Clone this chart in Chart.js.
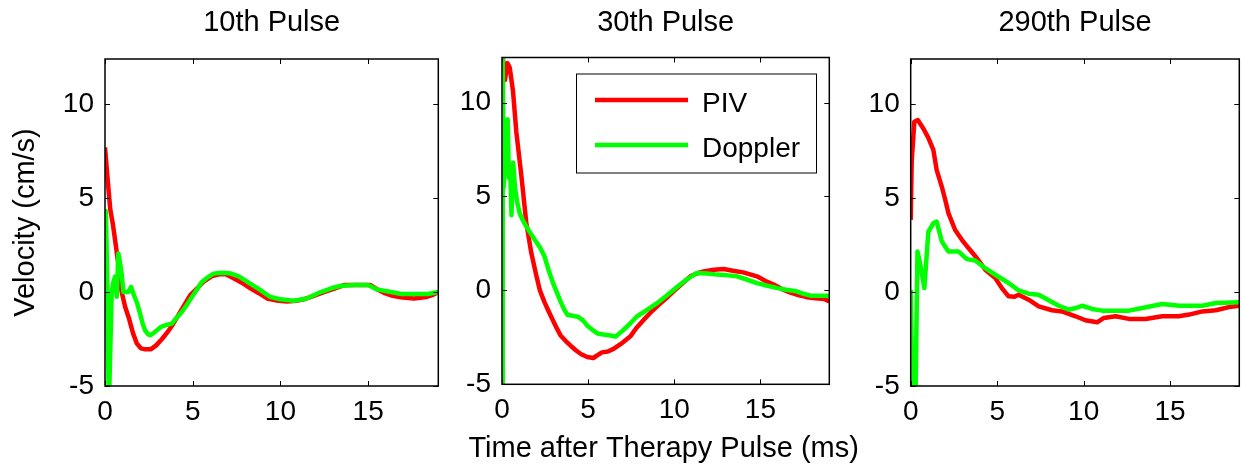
<!DOCTYPE html>
<html>
<head>
<meta charset="utf-8">
<script src="https://cdn.jsdelivr.net/npm/chart.js@4"></script>
<style>
body { margin: 0; background: #fff; }
#wrap { position: relative; width: 1241px; height: 466px; overflow: hidden; background: #fff; }
#wrap canvas { position: absolute; top: 0; }
</style>
</head>
<body>
<div id="wrap">
  <canvas id="c1"></canvas>
  <canvas id="c2"></canvas>
  <canvas id="c3"></canvas>
</div>
<script>
const titles = ['10th Pulse', '30th Pulse', '290th Pulse'];
const seriesNames = ['PIV', 'Doppler'];
const xTicks = [0, 5, 10, 15];
const yTicks = [-5, 0, 5, 10];
const xLabel = 'Time after Therapy Pulse (ms)';
const yLabel = 'Velocity (cm/s)';

// 10th pulse
const p10PivTime = [0, 0.15, 0.3, 0.45, 0.6, 0.8, 0.95, 1.15, 1.35, 1.6, 1.81, 2.05, 2.3, 2.6, 2.9, 3.25, 3.55, 3.85, 4.2, 4.57, 4.86, 5.15, 5.62, 6.1, 6.57, 6.9, 7.33, 7.8, 8.29, 8.75, 9.24, 9.8, 10.38, 10.9, 11.33, 11.9, 12.48, 13.0, 13.62, 14.4, 15.14, 15.5, 15.9, 16.4, 16.86, 17.6, 18.0, 18.38, 18.7, 19.0];
const p10PivVel = [7.7, 6.0, 4.4, 3.6, 2.6, 1.2, 0.0, -0.8, -1.35, -2.2, -2.73, -3.0, -3.05, -3.05, -2.85, -2.5, -2.15, -1.75, -1.2, -0.62, -0.16, 0.1, 0.55, 0.85, 0.96, 0.95, 0.73, 0.5, 0.2, -0.05, -0.34, -0.45, -0.51, -0.47, -0.39, -0.2, 0.0, 0.15, 0.37, 0.38, 0.37, 0.15, -0.04, -0.2, -0.28, -0.34, -0.3, -0.25, -0.15, 0.0];
const p10DopTime = [0, 0.05, 0.12, 0.2, 0.25, 0.38, 0.47, 0.57, 0.67, 0.76, 0.85, 0.95, 1.05, 1.33, 1.49, 1.6, 1.81, 2.0, 2.15, 2.29, 2.45, 2.57, 2.75, 2.95, 3.2, 3.43, 3.81, 4.1, 4.38, 4.65, 4.95, 5.25, 5.52, 5.85, 6.19, 6.6, 7.1, 7.6, 8.1, 8.86, 9.4, 10.0, 10.76, 11.5, 12.3, 12.9, 13.4, 14.2, 15.0, 15.5, 16.3, 16.9, 18.4, 19.0];
const p10DopVel = [0.0, 4.3, 1.0, -5.0, -5.0, -0.07, 0.5, 0.82, -0.25, 2.05, 1.6, 0.98, 0.0, 0.0, 0.27, -0.05, -0.53, -1.15, -1.7, -2.04, -2.25, -2.3, -2.2, -2.04, -1.85, -1.77, -1.68, -1.35, -1.06, -0.7, -0.27, 0.15, 0.53, 0.78, 0.98, 1.03, 1.0, 0.85, 0.55, 0.1, -0.25, -0.39, -0.46, -0.34, 0.0, 0.2, 0.32, 0.37, 0.37, 0.14, 0.0, -0.1, -0.1, 0.0];

// 30th pulse
const p30PivTime = [0.05, 0.17, 0.32, 0.45, 0.64, 0.83, 1.12, 1.41, 1.7, 1.99, 2.2, 2.47, 2.7, 2.96, 3.2, 3.4, 3.7, 4.0, 4.3, 4.6, 4.95, 5.3, 5.55, 5.8, 6.15, 6.5, 6.9, 7.44, 7.8, 8.22, 8.6, 9.0, 9.5, 9.96, 10.45, 10.93, 11.3, 11.7, 12.3, 12.87, 13.4, 14.0, 14.8, 15.3, 15.8, 16.3, 16.7, 17.2, 17.7, 18.2, 18.7, 19.0];
const p30PivVel = [12.4, 11.2, 12.1, 11.85, 10.6, 8.45, 6.14, 3.6, 2.0, 0.8, 0.0, -0.64, -1.1, -1.6, -2.05, -2.4, -2.7, -2.96, -3.2, -3.4, -3.55, -3.6, -3.45, -3.3, -3.25, -3.1, -2.85, -2.46, -2.0, -1.57, -1.2, -0.85, -0.45, -0.05, 0.35, 0.75, 0.9, 1.01, 1.1, 1.14, 1.05, 0.96, 0.75, 0.5, 0.3, 0.05, -0.11, -0.25, -0.36, -0.42, -0.46, -0.59];
const p30DopTime = [0, 0.04, 0.1, 0.18, 0.25, 0.33, 0.4, 0.47, 0.55, 0.65, 0.75, 0.9, 1.03, 1.2, 1.41, 1.65, 1.9, 2.2, 2.47, 2.7, 2.96, 3.2, 3.4, 3.6, 3.8, 4.1, 4.4, 4.7, 4.97, 5.25, 5.56, 5.9, 6.3, 6.6, 7.05, 7.45, 7.83, 8.4, 9.0, 9.6, 10.16, 10.75, 11.32, 11.9, 12.48, 13.1, 13.64, 14.2, 14.8, 15.4, 16.0, 16.5, 17.1, 17.5, 17.9, 19.0];
const p30DopVel = [-5.0, 12.4, 5.5, 7.0, 9.0, 9.1, 6.0, 6.6, 4.0, 6.8, 5.5, 4.6, 4.1, 3.75, 3.4, 3.05, 2.7, 2.3, 1.8, 1.1, 0.4, -0.15, -0.6, -1.0, -1.3, -1.35, -1.4, -1.6, -1.9, -2.1, -2.3, -2.35, -2.4, -2.46, -2.1, -1.75, -1.39, -1.05, -0.68, -0.25, 0.18, 0.6, 0.93, 0.9, 0.84, 0.8, 0.75, 0.58, 0.39, 0.25, 0.12, 0.03, -0.05, -0.18, -0.28, -0.28];

// 290th pulse
const p290PivTime = [0, 0.06, 0.21, 0.41, 0.73, 1.02, 1.31, 1.5, 1.8, 2.0, 2.18, 2.57, 2.96, 3.34, 3.83, 4.31, 4.89, 5.27, 5.66, 6.0, 6.24, 6.82, 7.4, 8.17, 8.75, 9.53, 10.1, 10.78, 11.17, 11.85, 12.62, 13.58, 14.55, 15.5, 16.1, 16.87, 17.64, 18.4, 19.0];
const p290PivVel = [3.84, 7.0, 9.06, 9.15, 8.7, 8.2, 7.56, 6.5, 5.6, 4.9, 4.2, 3.3, 2.78, 2.34, 1.8, 1.19, 0.74, 0.21, -0.23, -0.25, -0.14, -0.41, -0.76, -0.97, -1.03, -1.29, -1.5, -1.61, -1.38, -1.29, -1.43, -1.43, -1.29, -1.29, -1.2, -1.03, -0.97, -0.8, -0.73];
const p290DopTime = [0, 0.1, 0.29, 0.39, 0.54, 0.79, 1.02, 1.31, 1.5, 1.8, 2.18, 2.76, 3.25, 3.73, 4.31, 4.89, 5.66, 6.24, 6.82, 7.4, 7.98, 8.56, 9.14, 9.53, 9.91, 10.49, 11.07, 12.62, 13.39, 14.55, 15.52, 16.87, 17.64, 19.0];
const p290DopVel = [0.12, -5.0, -5.0, 2.16, 1.54, 0.21, 3.2, 3.66, 3.75, 2.69, 2.16, 2.16, 1.75, 1.68, 1.27, 0.92, 0.48, 0.09, -0.09, -0.14, -0.44, -0.73, -0.94, -0.85, -0.73, -0.9, -0.99, -0.99, -0.85, -0.64, -0.73, -0.73, -0.58, -0.55];

const pivTimes = [p10PivTime, p30PivTime, p290PivTime];
const pivVels = [p10PivVel, p30PivVel, p290PivVel];
const dopTimes = [p10DopTime, p30DopTime, p290DopTime];
const dopVels = [p10DopVel, p30DopVel, p290DopVel];

// where each axes box sits on the page
const boxes = [
    { left: 105, right: 438.3, top: 59, bottom: 386 },
    { left: 502, right: 829.3, top: 57.5, bottom: 384.3 },
    { left: 910.7, right: 1239.3, top: 59, bottom: 386 }
];

const FONT = "'Liberation Sans', Arial, sans-serif";
const Y_AXIS_W = 105;

function toXY(times, vels) {
    return times.map(function (t, i) { return { x: t, y: vels[i] }; });
}

// matlab style box with ticks pointing inwards on all four sides
const boxPlugin = {
    id: 'matlabBox',
    afterDraw(chart) {
        const ctx = chart.ctx;
        const a = chart.chartArea;
        const xs = chart.scales.x, ys = chart.scales.y;
        const len = 5;
        ctx.save();
        ctx.strokeStyle = '#000';
        ctx.lineWidth = 1;
        ctx.beginPath();
        xTicks.forEach(function (v) {
            const px = Math.round(xs.getPixelForValue(v)) + 0.5;
            ctx.moveTo(px, a.bottom); ctx.lineTo(px, a.bottom - len);
            ctx.moveTo(px, a.top); ctx.lineTo(px, a.top + len);
        });
        yTicks.forEach(function (v) {
            const py = Math.round(ys.getPixelForValue(v)) + 0.5;
            ctx.moveTo(a.left, py); ctx.lineTo(a.left + len, py);
            ctx.moveTo(a.right, py); ctx.lineTo(a.right - len, py);
        });
        ctx.stroke();
        ctx.lineWidth = 1.5;
        ctx.strokeRect(a.left, a.top, a.right - a.left, a.bottom - a.top);
        ctx.restore();
    }
};

// legend inside the middle axes, plus the shared x label under it
const middlePlugin = {
    id: 'middleExtras',
    afterDraw(chart) {
        const ctx = chart.ctx;
        const a = chart.chartArea;
        ctx.save();
        ctx.fillStyle = '#fff';
        ctx.fillRect(a.left + 74, a.top + 16.5, 240, 99);
        ctx.strokeStyle = '#000';
        ctx.lineWidth = 1;
        ctx.strokeRect(a.left + 74.5, a.top + 16.5, 240, 99);
        chart.data.datasets.forEach(function (ds, i) {
            const y = a.top + 42.5 + i * 45;
            ctx.strokeStyle = ds.borderColor;
            ctx.lineWidth = 4.5;
            ctx.beginPath();
            ctx.moveTo(a.left + 93, y);
            ctx.lineTo(a.left + 186, y);
            ctx.stroke();
            ctx.fillStyle = '#000';
            ctx.font = '28px ' + FONT;
            ctx.textBaseline = 'alphabetic';
            ctx.textAlign = 'left';
            ctx.fillText(ds.label, a.left + 200, y + 11.5);
        });
        // x label, wider than the axes so drawn here
        ctx.font = '29px ' + FONT;
        ctx.textAlign = 'center';
        ctx.fillText(xLabel, (a.left + a.right) / 2 - 2, 456.5);
        ctx.restore();
    }
};

function drawPanel(idx) {
    const b = boxes[idx];
    const canvas = document.getElementById('c' + (idx + 1));
    const canvasLeft = Math.floor(b.left - Y_AXIS_W);
    const yAxisW = b.left - canvasLeft;
    const extra = idx === 1 ? 60 : 5;
    const canvasW = Math.min(Math.ceil(b.right + extra), 1241) - canvasLeft;
    const padRight = canvasW - yAxisW - (b.right - b.left);
    canvas.width = canvasW;
    canvas.height = 466;
    canvas.style.left = canvasLeft + 'px';
    canvas.style.width = canvasW + 'px';
    canvas.style.height = '466px';

    const titleSize = 29;
    const titlePadTop = 5.6;

    const plugins = [boxPlugin];
    if (idx === 1) plugins.push(middlePlugin);

    new Chart(canvas.getContext('2d'), {
        type: 'line',
        data: {
            datasets: [{
                label: seriesNames[0],
                data: toXY(pivTimes[idx], pivVels[idx]),
                borderColor: '#ff0000',
                borderWidth: 4.5,
                pointRadius: 0,
                tension: 0,
                borderJoinStyle: 'round',
                order: 2
            }, {
                label: seriesNames[1],
                data: toXY(dopTimes[idx], dopVels[idx]),
                borderColor: '#00ff00',
                borderWidth: 4.5,
                pointRadius: 0,
                tension: 0,
                borderJoinStyle: 'round',
                order: 1
            }]
        },
        options: {
            responsive: false,
            animation: false,
            events: [],
            layout: { padding: { left: 0, right: padRight, top: 0, bottom: 0 } },
            plugins: {
                legend: { display: false },
                tooltip: { enabled: false },
                title: {
                    display: true,
                    text: titles[idx],
                    fullSize: false,
                    color: '#000',
                    font: { family: FONT, size: titleSize, weight: 'normal', lineHeight: 1.2 },
                    padding: { top: titlePadTop, bottom: b.top - titlePadTop - titleSize * 1.2 }
                }
            },
            scales: {
                x: {
                    type: 'linear',
                    min: 0,
                    max: 19,
                    grid: { display: false, drawTicks: false },
                    border: { display: false },
                    afterBuildTicks: function (s) { s.ticks = xTicks.map(function (v) { return { value: v }; }); },
                    afterFit: function (s) { s.height = 466 - b.bottom; },
                    ticks: { color: '#000', padding: 9, maxRotation: 0, font: { family: FONT, size: 28 } }
                },
                y: {
                    type: 'linear',
                    min: -5,
                    max: 12.4,
                    grid: { display: false, drawTicks: false },
                    border: { display: false },
                    afterBuildTicks: function (s) { s.ticks = yTicks.map(function (v) { return { value: v }; }); },
                    afterFit: function (s) { s.width = yAxisW; },
                    ticks: { color: '#000', padding: 11, font: { family: FONT, size: 28 } },
                    title: {
                        display: idx === 0,
                        text: yLabel,
                        color: '#000',
                        font: { family: FONT, size: titleSize, lineHeight: 1.2 },
                        padding: { top: 9, bottom: 0 }
                    }
                }
            }
        },
        plugins: plugins
    });
}

for (var i = 0; i < 3; i++) {
    drawPanel(i);
}
</script>
</body>
</html>
